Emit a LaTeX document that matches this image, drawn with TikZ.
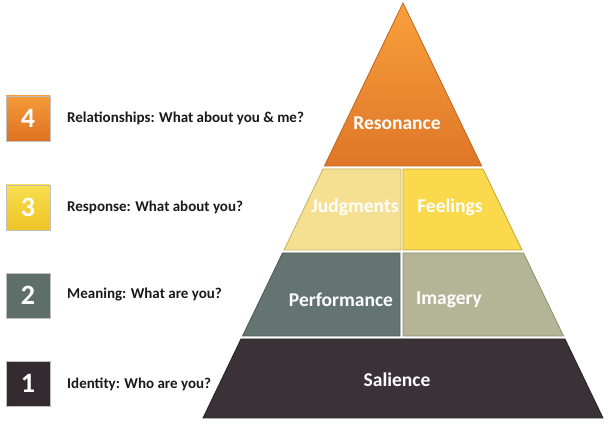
\documentclass[tikz,border=0pt]{standalone}
\usepackage{fontspec}
\setmainfont{Carlito}
\definecolor{resTop}{HTML}{F9A03C}
\definecolor{resBot}{HTML}{DF7628}
\definecolor{resEdge}{HTML}{BD6420}
\definecolor{judFill}{HTML}{F5DF90}
\definecolor{judEdge}{HTML}{C8B060}
\definecolor{feeFill}{HTML}{FAD94C}
\definecolor{feeEdge}{HTML}{C6A630}
\definecolor{perFill}{HTML}{647571}
\definecolor{perEdge}{HTML}{4C5956}
\definecolor{imaFill}{HTML}{B4B496}
\definecolor{imaEdge}{HTML}{8C8C70}
\definecolor{salFill}{HTML}{3A3237}
\definecolor{salEdge}{HTML}{262024}
\definecolor{boxFourTop}{HTML}{F59A3A}
\definecolor{boxFourBot}{HTML}{DE7222}
\definecolor{boxThreeTop}{HTML}{F8DE50}
\definecolor{boxThreeBot}{HTML}{EDC424}
\definecolor{boxTwo}{HTML}{5E6F6A}
\definecolor{boxOne}{HTML}{332B30}
\tikzset{
  layer/.style={line width=0.8pt, line join=miter},
  tierlabel/.style={text=white, font=\bfseries\fontsize{19.5}{22}\selectfont, inner sep=0pt},
  numbox/.style={minimum width=44pt, minimum height=45pt, inner sep=0pt, text=white,
    font=\bfseries\fontsize{28}{30}\selectfont, draw=black!25, line width=0.6pt},
  desc/.style={anchor=west, font=\bfseries\fontsize{15}{17}\selectfont, text=black!90, inner sep=0pt}
}
\begin{document}
\begin{tikzpicture}[x=1pt,y=-1pt]
\useasboundingbox (0,0) rectangle (614,435);
% Resonance
\shade[layer, top color=resTop, bottom color=resBot, draw=resEdge]
  (403,3) -- (481.6,166) -- (324.4,166) -- cycle;
% Judgments / Feelings
\fill[layer, fill=judFill, draw=judEdge] (323,169) -- (401,169) -- (401,250) -- (284,250) -- cycle;
\fill[layer, fill=feeFill, draw=feeEdge] (403,169) -- (483,169) -- (522,250) -- (403,250) -- cycle;
% Performance / Imagery
\fill[layer, fill=perFill, draw=perEdge] (282.5,253) -- (400,253) -- (400,336) -- (242.5,336) -- cycle;
\fill[layer, fill=imaFill, draw=imaEdge] (403,253) -- (523.5,253) -- (563.5,336) -- (403,336) -- cycle;
% Salience
\fill[layer, fill=salFill, draw=salEdge] (241,339) -- (565,339) -- (603,418) -- (203,418) -- cycle;
% tier labels
\node[tierlabel] (resonance) at (397,123) {Resonance};
\node[tierlabel] (judgments) at (355,207) {Judgments};
\node[tierlabel] (feelings) at (450,207) {Feelings};
\node[tierlabel] (performance) at (341,300) {Performance};
\node[tierlabel] (imagery) at (449,300) {Imagery};
\node[tierlabel] (salience) at (397,380) {Salience};
% number boxes
\node[numbox, top color=boxFourTop, bottom color=boxFourBot] (b4) at (28,118.5) {4};
\node[numbox, top color=boxThreeTop, bottom color=boxThreeBot] (b3) at (28,207.5) {3};
\node[numbox, fill=boxTwo] (b2) at (28,295.5) {2};
\node[numbox, fill=boxOne] (b1) at (28,383.5) {1};
% descriptions
\node[desc] (d4) at (67,118) {Relationships: What about you \& me?};
\node[desc] (d3) at (67,207) {Response: What about you?};
\node[desc] (d2) at (67,295) {Meaning: What are you?};
\node[desc] (d1) at (67,384) {Identity: Who are you?};
\end{tikzpicture}
\end{document}
